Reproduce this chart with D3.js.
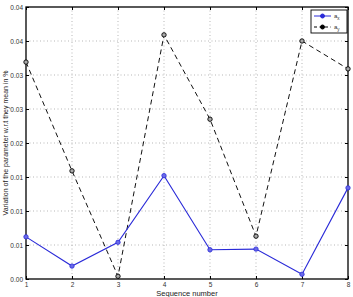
<!DOCTYPE html>
<html>
<head>
<meta charset="utf-8">
<script src="https://cdn.jsdelivr.net/npm/d3@7"></script>
<style>
  body { margin: 0; background: #fff; }
  svg { display: block; font-family: "Liberation Sans", Arial, sans-serif; }
</style>
</head>
<body>
<script>
(function() {

	var sequence = [1, 2, 3, 4, 5, 6, 7, 8];
	var ax = [0.0062, 0.0019, 0.0054, 0.0152, 0.0043, 0.0044, 0.0007, 0.0134];
	var ay = [0.0319, 0.0159, 0.0004, 0.0359, 0.0235, 0.0063, 0.0350, 0.0309];
	var yTicks = [0, 0.005, 0.01, 0.015, 0.02, 0.025, 0.03, 0.035, 0.04];
	var yTickLabels = ['0.00', '0.01', '0.01', '0.01', '0.02', '0.03', '0.03', '0.04', '0.04'];
	var seriesNames = ['a', 'a'];
	var seriesSubs = ['x', 'y'];

	var width = 353, height = 297;
	var left = 26, right = 348, top = 7, bottom = 279;

	var x = d3.scaleLinear().domain([1, 8]).range([left, right]);
	var y = d3.scaleLinear().domain([0, 0.04]).range([bottom, top]);

	var svg = d3.select('body').append('svg')
		.attr('width', width).attr('height', height);

	// Grid
	var grid = svg.append('g').attr('stroke', '#9a9a9a').attr('stroke-width', 0.7)
		.attr('stroke-dasharray', '1,2.5');
	grid.selectAll('.gx').data(sequence.slice(1, -1)).enter().append('line')
		.attr('x1', function(d) { return x(d); }).attr('x2', function(d) { return x(d); })
		.attr('y1', top).attr('y2', bottom);
	grid.selectAll('.gy').data(yTicks.slice(1, -1)).enter().append('line')
		.attr('y1', function(d) { return y(d); }).attr('y2', function(d) { return y(d); })
		.attr('x1', left).attr('x2', right);

	// Axes (ticks inside, MATLAB style)
	var xAxis = svg.append('g').attr('transform', 'translate(0,' + bottom + ')')
		.call(d3.axisTop(x).tickValues(sequence).tickFormat(d3.format('d')).tickSize(3).tickSizeOuter(0));
	xAxis.selectAll('text').remove();
	xAxis.selectAll('.tick').append('text')
		.attr('y', 8).attr('text-anchor', 'middle').attr('fill', '#333')
		.style('font-size', '6.5px').text(function(d) { return d; });

	var yAxis = svg.append('g').attr('transform', 'translate(' + left + ',0)')
		.call(d3.axisRight(y).tickValues(yTicks).tickSize(3).tickSizeOuter(0)
			.tickFormat(function(d, i) { return yTickLabels[i]; }));
	yAxis.selectAll('text').attr('x', -3).attr('text-anchor', 'end')
		.attr('fill', '#333').style('font-size', '6.5px');

	// Top/right ticks
	svg.append('g').attr('transform', 'translate(0,' + top + ')')
		.call(d3.axisBottom(x).tickValues(sequence).tickSize(3).tickSizeOuter(0).tickFormat(''));
	svg.append('g').attr('transform', 'translate(' + right + ',0)')
		.call(d3.axisLeft(y).tickValues(yTicks).tickSize(3).tickSizeOuter(0).tickFormat(''));
	svg.selectAll('.domain').remove();

	// Frame
	svg.append('rect').attr('x', left).attr('y', top)
		.attr('width', right - left).attr('height', bottom - top)
		.attr('fill', 'none').attr('stroke', '#000').attr('stroke-width', 1.3);

	var line = d3.line()
		.x(function(d, i) { return x(sequence[i]); })
		.y(function(d) { return y(d); });

	// a_y dashed
	svg.append('path').datum(ay).attr('d', line)
		.attr('fill', 'none').attr('stroke', '#111').attr('stroke-width', 1)
		.attr('stroke-dasharray', '5,3.5');
	svg.selectAll('.my').data(ay).enter().append('circle')
		.attr('cx', function(d, i) { return x(sequence[i]); })
		.attr('cy', function(d) { return y(d); })
		.attr('r', 2.2).attr('fill', '#aaa').attr('stroke', '#000').attr('stroke-width', 0.9);

	// a_x solid
	svg.append('path').datum(ax).attr('d', line)
		.attr('fill', 'none').attr('stroke', '#2a2ad8').attr('stroke-width', 1.1);
	svg.selectAll('.mx').data(ax).enter().append('circle')
		.attr('cx', function(d, i) { return x(sequence[i]); })
		.attr('cy', function(d) { return y(d); })
		.attr('r', 2.2).attr('fill', '#6a6ae8').attr('stroke', '#2a2ad8').attr('stroke-width', 0.8);

	// Legend
	var lg = svg.append('g');
	lg.append('rect').attr('x', 311).attr('y', 10).attr('width', 36).attr('height', 23)
		.attr('fill', '#fff').attr('stroke', '#000').attr('stroke-width', 0.9);
	var styles = [
		{ stroke: '#2a2ad8', dash: null, fill: '#2a2ad8' },
		{ stroke: '#000', dash: '3,2.5', fill: '#000' }
	];
	seriesNames.forEach(function(name, i) {
		var ly = 16 + i * 11;
		lg.append('line').attr('x1', 314).attr('x2', 331).attr('y1', ly).attr('y2', ly)
			.attr('stroke', styles[i].stroke).attr('stroke-width', 1)
			.attr('stroke-dasharray', styles[i].dash);
		lg.append('circle').attr('cx', 322.5).attr('cy', ly).attr('r', 2)
			.attr('fill', styles[i].fill).attr('stroke', styles[i].stroke);
		var t = lg.append('text').attr('x', 334).attr('y', ly + 2)
			.style('font-size', '6px').attr('fill', '#333');
		t.append('tspan').text(name);
		t.append('tspan').attr('dy', 2).style('font-size', '4.5px').text(seriesSubs[i]);
	});

	// Labels
	svg.append('text').attr('x', (left + right) / 2).attr('y', 296)
		.attr('text-anchor', 'middle').style('font-size', '7.5px').attr('fill', '#222')
		.text('Sequence number');
	svg.append('text').attr('transform', 'translate(8,' + ((top + bottom) / 2) + ') rotate(-90)')
		.attr('text-anchor', 'middle').style('font-size', '7px').attr('fill', '#222')
		.text('Variation of the parameter w.r.t they mean in %');

})();
</script>
</body>
</html>
